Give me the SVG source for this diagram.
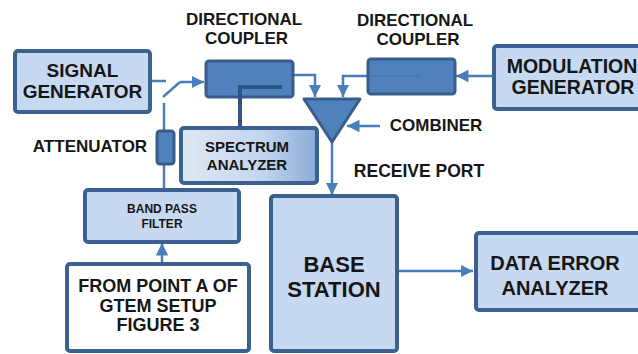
<svg xmlns="http://www.w3.org/2000/svg" width="638" height="354" viewBox="0 0 638 354">
<defs>
<style>
.box{fill:#c6d9f1;stroke:#3c6190;stroke-width:4;}
.mid{fill:#4f81bd;stroke:#385d8a;stroke-width:3;}
.wbox{fill:#ffffff;stroke:#3c6190;stroke-width:4;}
.t{font-family:"Liberation Sans",Arial,sans-serif;font-weight:bold;fill:#161616;text-anchor:middle;}
.c{fill:none;stroke:#4a7ebb;stroke-width:2.5;}
</style>
<linearGradient id="sg" x1="0" y1="0" x2="1" y2="0">
<stop offset="0" stop-color="#dfe8f4"/>
<stop offset="0.6" stop-color="#c3d5ee"/>
<stop offset="1" stop-color="#8aaad6"/>
</linearGradient>
<marker id="ah" viewBox="0 0 10 10" refX="10" refY="5" markerWidth="5" markerHeight="5" markerUnits="strokeWidth" orient="auto">
<path d="M0,0 L10,5 L0,10 z" fill="#4a7ebb"/>
</marker>
</defs>

<g id="connectors">
<path class="c" d="M151,81 H166"/>
<path class="c" d="M163,97 L180,82"/>
<path class="c" d="M180,82 H204" marker-end="url(#ah)"/>
<path class="c" d="M164,103 V131"/>
<path class="c" d="M164,164 V190"/>
<path class="c" d="M162,263 V243" marker-end="url(#ah)"/>
<path class="c" d="M294,75 H315 V97" marker-end="url(#ah)"/>
<path class="c" d="M367,76 H343 V97" marker-end="url(#ah)"/>
<path class="c" d="M493,76 H456" marker-end="url(#ah)"/>
<path class="c" d="M380,126 H347" marker-end="url(#ah)"/>
<path class="c" d="M332,142 V195" marker-end="url(#ah)"/>
<path class="c" d="M398,271 H473" marker-end="url(#ah)"/>
</g>

<g id="signal-generator">
<rect class="box" x="15" y="51" width="135" height="61" rx="3"/>
<text class="t" x="82.5" y="77" font-size="19">SIGNAL</text>
<text class="t" x="82.5" y="98" font-size="19">GENERATOR</text>
</g>

<g id="directional-coupler-1">
<rect class="mid" x="206" y="61" width="87" height="36" rx="3"/>
<path d="M282,87 H240 V127" fill="none" stroke="#2c5584" stroke-width="4"/>
<text class="t" x="244" y="25" font-size="17">DIRECTIONAL</text>
<text class="t" x="246.5" y="44" font-size="17">COUPLER</text>
</g>

<g id="directional-coupler-2">
<rect class="mid" x="368" y="59" width="87" height="35" rx="3"/>
<path d="M369,76 H421" fill="none" stroke="#4372ad" stroke-width="1"/>
<text class="t" x="415" y="26" font-size="17">DIRECTIONAL</text>
<text class="t" x="418" y="45" font-size="17">COUPLER</text>
</g>

<g id="modulation-generator">
<rect class="box" x="494" y="46" width="160" height="63" rx="3"/>
<text class="t" x="572" y="73" font-size="19.5">MODULATION</text>
<text class="t" x="573" y="94" font-size="19.5">GENERATOR</text>
</g>

<g id="combiner">
<path class="mid" d="M304,99 L360,99 L332,142 z" stroke-linejoin="round"/>
<text class="t" x="436" y="131" font-size="17">COMBINER</text>
</g>

<g id="attenuator">
<rect class="mid" x="157" y="131" width="17" height="33" rx="3"/>
<text class="t" x="90" y="152" font-size="17">ATTENUATOR</text>
</g>

<g id="spectrum-analyzer">
<rect x="181" y="128" width="136" height="55" rx="3" fill="url(#sg)" stroke="#3c6190" stroke-width="4"/>
<text class="t" x="247" y="152" font-size="15">SPECTRUM</text>
<text class="t" x="247" y="170" font-size="15">ANALYZER</text>
</g>

<g id="receive-port">
<text class="t" x="419" y="177" font-size="17.5">RECEIVE PORT</text>
</g>

<g id="band-pass-filter">
<rect class="box" x="85" y="190" width="154" height="52" rx="3"/>
<text class="t" x="162" y="213" font-size="12">BAND PASS</text>
<text class="t" x="162" y="228" font-size="12">FILTER</text>
</g>

<g id="from-point-a">
<rect class="wbox" x="67" y="264" width="182" height="87" rx="3"/>
<text class="t" x="158" y="292" font-size="18">FROM POINT A OF</text>
<text class="t" x="158" y="312" font-size="18">GTEM SETUP</text>
<text class="t" x="158" y="331" font-size="18">FIGURE 3</text>
</g>

<g id="base-station">
<rect class="box" x="271" y="196" width="126" height="155" rx="3"/>
<text class="t" x="334" y="272" font-size="22">BASE</text>
<text class="t" x="334" y="297" font-size="22">STATION</text>
</g>

<g id="data-error-analyzer">
<rect class="box" x="476" y="233" width="180" height="77" rx="3"/>
<text class="t" x="555" y="270" font-size="20">DATA ERROR</text>
<text class="t" x="555" y="295" font-size="20">ANALYZER</text>
</g>
</svg>
